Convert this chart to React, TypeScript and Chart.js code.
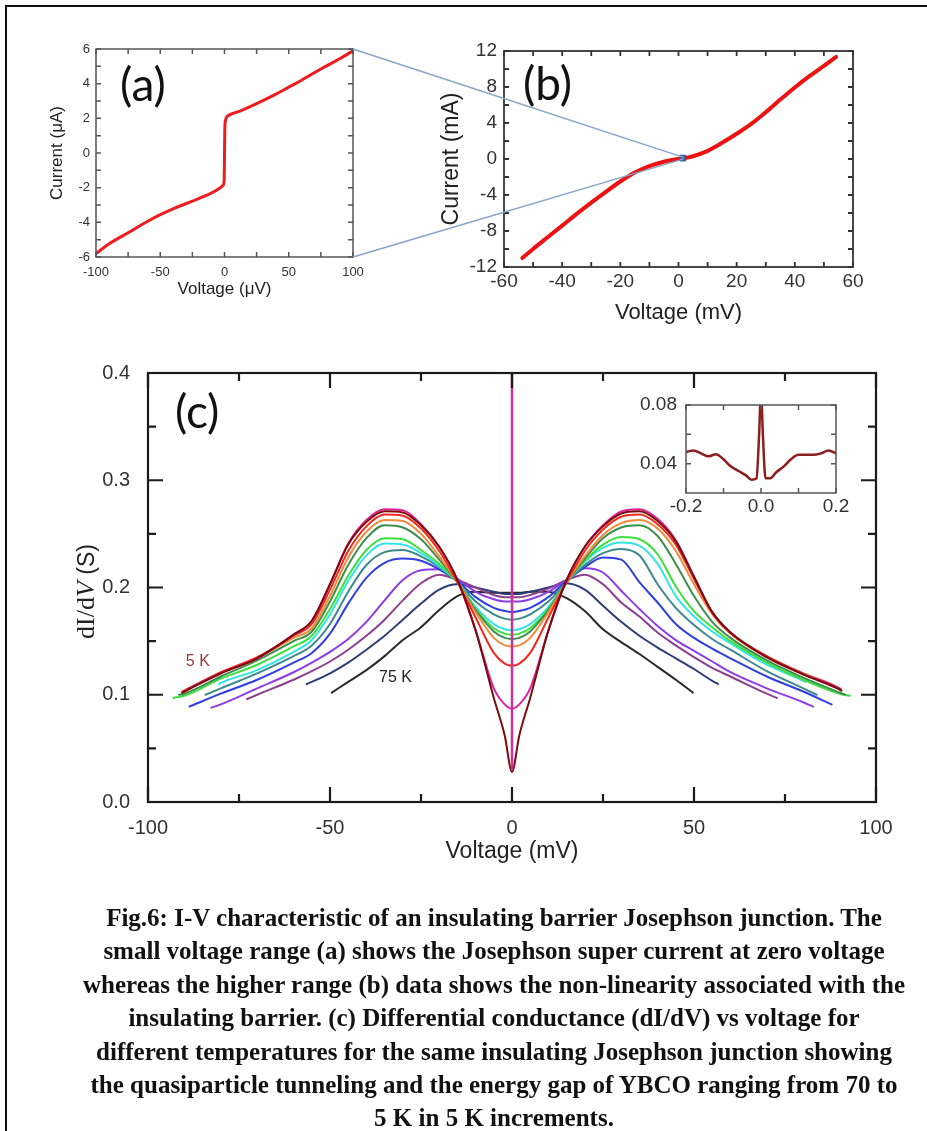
import React, { useEffect, useRef } from "react";
import { Chart, registerables } from "chart.js";

Chart.register(...registerables);

const SANS = '"Liberation Sans", Arial, sans-serif';
const SERIF = '"Liberation Serif", "Times New Roman", serif';
const LETTER = 'Lato, "Open Sans", sans-serif';

// ---------------- Panel (a): small-range I-V ----------------
const aVoltage = [-100, -90, -75, -60, -50, -40, -25, -15, -8, -3.5, -1, -0.3, 0.3, 0.7, 1.5, 4, 12, 25, 40, 50, 60, 75, 90, 100];
const aCurrent = [-5.8, -5.25, -4.6, -3.95, -3.56, -3.22, -2.78, -2.48, -2.22, -2.02, -1.85, -1.6, 1.5, 1.85, 2.05, 2.2, 2.42, 2.85, 3.4, 3.8, 4.2, 4.85, 5.45, 5.9];
const aXTicks = [-100, -50, 0, 50, 100];
const aXMinor = [-75, -25, 25, 75];
const aYTicks = [-6, -4, -2, 0, 2, 4, 6];
const aYMinor = [-5, -3, -1, 1, 3, 5];

// ---------------- Panel (b): wide-range I-V ----------------
const bVoltage = [-53.7, -50, -45, -40, -35, -30, -25, -20, -15, -10, -5, 0, 5, 10, 15, 20, 25, 30, 35, 40, 45, 50, 54.2];
const bCurrent = [-11.0, -10.0, -8.7, -7.4, -6.1, -4.85, -3.65, -2.5, -1.5, -0.8, -0.3, 0, 0.3, 0.9, 1.8, 2.8, 3.9, 5.2, 6.6, 7.95, 9.2, 10.35, 11.35];
const bMarkerV = [1.5];
const bMarkerI = [0.1];
const bXTicks = [-60, -40, -20, 0, 20, 40, 60];
const bXMinor = [-50, -30, -10, 10, 30, 50];
const bYTicks = [-12, -8, -4, 0, 4, 8, 12];
const bYMinor = [-10, -6, -2, 2, 6, 10];

// ---------------- Panel (c): dI/dV vs V ----------------
const cVoltage = [-90, -80, -70, -60, -55, -50, -45, -40, -35, -30, -25, -20, -15, -10, -5, -2, 0, 2, 5, 10, 15, 20, 25, 30, 35, 40, 45, 50, 55, 60, 70, 80, 90];
const curveLabels = ["5 K", "10 K", "15 K", "20 K", "25 K", "30 K", "35 K", "40 K", "45 K", "50 K", "55 K", "65 K", "75 K"];
const curveColors = ["#7a0c0c", "#e0239b", "#f02a1e", "#f5893a", "#3e8e4e", "#3be03b", "#33e3e8", "#3c8a8e", "#2f3fe0", "#8e3be8", "#8e3f8e", "#2e3c78", "#2a2a2a"];
const g5K = [0.103, 0.120, 0.134, 0.156, 0.169, 0.203, 0.240, 0.261, 0.271, 0.270, 0.258, 0.238, 0.207, 0.160, 0.097, 0.062, 0.028, 0.062, 0.097, 0.160, 0.207, 0.238, 0.257, 0.269, 0.271, 0.262, 0.243, 0.210, 0.177, 0.158, 0.135, 0.119, 0.105];
const g10K = [0.103, 0.120, 0.134, 0.156, 0.169, 0.203, 0.241, 0.263, 0.273, 0.272, 0.259, 0.238, 0.207, 0.160, 0.106, 0.091, 0.087, 0.091, 0.106, 0.160, 0.207, 0.238, 0.258, 0.271, 0.273, 0.264, 0.244, 0.210, 0.177, 0.158, 0.135, 0.119, 0.105];
const g15K = [0.104, 0.121, 0.135, 0.155, 0.166, 0.198, 0.234, 0.257, 0.268, 0.267, 0.255, 0.234, 0.205, 0.172, 0.139, 0.129, 0.127, 0.129, 0.139, 0.172, 0.205, 0.234, 0.254, 0.266, 0.268, 0.259, 0.240, 0.208, 0.177, 0.158, 0.136, 0.120, 0.106];
const g20K = [0.103, 0.120, 0.134, 0.153, 0.162, 0.192, 0.228, 0.252, 0.263, 0.262, 0.250, 0.229, 0.205, 0.177, 0.153, 0.146, 0.145, 0.146, 0.153, 0.177, 0.205, 0.229, 0.249, 0.260, 0.263, 0.255, 0.234, 0.203, 0.175, 0.157, 0.135, 0.119, 0.105];
const g25K = [0.101, 0.117, 0.132, 0.150, 0.159, 0.187, 0.221, 0.246, 0.258, 0.256, 0.245, 0.226, 0.205, 0.179, 0.159, 0.153, 0.152, 0.153, 0.159, 0.179, 0.205, 0.227, 0.246, 0.256, 0.258, 0.248, 0.222, 0.192, 0.168, 0.153, 0.132, 0.116, 0.102];
const g30K = [0.099, 0.115, 0.128, 0.145, 0.155, 0.180, 0.211, 0.235, 0.246, 0.245, 0.235, 0.222, 0.205, 0.180, 0.162, 0.157, 0.156, 0.157, 0.162, 0.180, 0.205, 0.225, 0.240, 0.247, 0.245, 0.231, 0.201, 0.178, 0.163, 0.150, 0.130, 0.114, 0.101];
const g35K = [null, 0.111, 0.123, 0.140, 0.151, 0.175, 0.206, 0.230, 0.241, 0.240, 0.232, 0.220, 0.205, 0.182, 0.166, 0.161, 0.160, 0.161, 0.166, 0.182, 0.205, 0.224, 0.237, 0.242, 0.239, 0.222, 0.192, 0.173, 0.159, 0.148, 0.128, 0.113, null];
const g40K = [null, 0.106, 0.120, 0.136, 0.146, 0.166, 0.196, 0.221, 0.233, 0.235, 0.229, 0.219, 0.205, 0.187, 0.175, 0.171, 0.170, 0.171, 0.175, 0.187, 0.205, 0.221, 0.232, 0.236, 0.230, 0.203, 0.181, 0.165, 0.152, 0.142, 0.122, 0.106, null];
const g45K = [null, 0.101, 0.114, 0.130, 0.139, 0.157, 0.185, 0.209, 0.223, 0.227, 0.225, 0.217, 0.206, 0.191, 0.181, 0.178, 0.177, 0.178, 0.181, 0.191, 0.206, 0.219, 0.228, 0.226, 0.205, 0.186, 0.166, 0.153, 0.143, 0.134, 0.117, 0.103, null];
const g50K = [null, 0.091, 0.106, 0.121, 0.130, 0.140, 0.152, 0.168, 0.188, 0.207, 0.216, 0.217, 0.208, 0.196, 0.189, 0.187, 0.187, 0.187, 0.189, 0.196, 0.207, 0.218, 0.214, 0.197, 0.180, 0.164, 0.151, 0.141, 0.131, 0.121, 0.106, 0.093, null];
const g55K = [null, null, 0.100, 0.114, 0.122, 0.131, 0.142, 0.155, 0.170, 0.188, 0.204, 0.212, 0.207, 0.200, 0.193, 0.191, 0.191, 0.191, 0.193, 0.199, 0.207, 0.212, 0.203, 0.186, 0.173, 0.158, 0.146, 0.135, 0.125, 0.117, 0.101, null, null];
const g65K = [null, null, null, null, 0.112, 0.120, 0.130, 0.142, 0.155, 0.170, 0.185, 0.198, 0.203, 0.200, 0.196, 0.194, 0.194, 0.194, 0.196, 0.200, 0.204, 0.198, 0.183, 0.168, 0.155, 0.144, 0.134, 0.124, 0.113, null, null, null, null];
const g75K = [null, null, null, null, null, null, 0.112, 0.123, 0.136, 0.151, 0.163, 0.179, 0.192, 0.196, 0.195, 0.195, 0.195, 0.195, 0.196, 0.196, 0.190, 0.178, 0.161, 0.149, 0.138, 0.126, 0.114, null, null, null, null, null, null];
const curveValues = [g5K, g10K, g15K, g20K, g25K, g30K, g35K, g40K, g45K, g50K, g55K, g65K, g75K];
const curveStartV = [-90.6, -90.4, -90.6, -90.4, -91.5, -93, -80.5, -84.2, -88.6, -82.6, -72.8, -56.4, -49.5];
const curveStartG = [0.102, 0.102, 0.103, 0.102, 0.100, 0.097, 0.110, 0.100, 0.089, 0.088, 0.096, 0.110, 0.102];
const curveEndV = [90.5, 90.3, 90.4, 90.4, 91.5, 92.8, 80.5, 83.7, 87.8, 82.7, 72.8, 56.6, 49.7];
const curveEndG = [0.104, 0.104, 0.105, 0.104, 0.100, 0.099, 0.112, 0.100, 0.091, 0.089, 0.097, 0.110, 0.102];
const spikeV = [0, 0];
const spikeG = [0.03, 0.42];
const cXTicks = [-100, -50, 0, 50, 100];
const cXMinor = [-75, -25, 25, 75];
const cYTicks = [0, 0.1, 0.2, 0.3, 0.4];
const cYMinor = [0.05, 0.15, 0.25, 0.35];
const cNotes = [
  { text: "5 K", v: -86.3, g: 0.131, color: "#9a3a3a" },
  { text: "75 K", v: -32.0, g: 0.116, color: "#222222" },
];

// ---------------- Inset ----------------
const insetV = [-0.2, -0.18, -0.16, -0.14, -0.12, -0.1, -0.08, -0.06, -0.04, -0.025, -0.012, -0.005, 0, 0.005, 0.012, 0.025, 0.04, 0.06, 0.08, 0.1, 0.12, 0.14, 0.16, 0.18, 0.2];
const insetG = [0.048, 0.049, 0.047, 0.045, 0.0465, 0.043, 0.038, 0.035, 0.032, 0.029, 0.030, 0.06, 0.09, 0.06, 0.030, 0.030, 0.034, 0.038, 0.043, 0.046, 0.046, 0.046, 0.047, 0.049, 0.047];
const iXTicks = [-0.2, 0, 0.2];
const iXMinor = [-0.1, 0.1];
const iYTicks = [0.04, 0.08];
const iYMinor = [0.06];

const CAPTION = [
  "Fig.6: I-V characteristic of an insulating barrier Josephson junction. The",
  "small voltage range (a) shows the Josephson super current at zero voltage",
  "whereas the higher range (b) data shows the non-linearity associated with the",
  "insulating barrier. (c) Differential conductance (dI/dV) vs voltage for",
  "different temperatures for the same insulating Josephson junction showing",
  "the quasiparticle tunneling and the energy gap of YBCO ranging from 70 to",
  "5 K in 5 K increments.",
];

type Spec = {
  padding: { left: number; top: number; right: number; bottom: number };
  yWidth: number;
  xHeight: number;
  xMin: number; xMax: number; yMin: number; yMax: number;
  xTicks: number[]; yTicks: number[];
  xFmt: (v: number) => string; yFmt: (v: number) => string;
  tickSize: number; tickColor: string; xPad: number; yPad: number;
  xTitle?: { text: string; size: number };
  yTitle?: { text: string; size: number };
};

function buildOptions(p: Spec): any {
  return {
    animation: false,
    responsive: false,
    maintainAspectRatio: false,
    events: [],
    layout: { padding: p.padding },
    plugins: { legend: { display: false }, tooltip: { enabled: false }, title: { display: false } },
    scales: {
      x: {
        type: "linear",
        min: p.xMin,
        max: p.xMax,
        afterBuildTicks: (s: any) => { s.ticks = p.xTicks.map((v) => ({ value: v })); },
        afterFit: (s: any) => { s.height = p.xHeight; },
        grid: { display: false, drawTicks: false },
        border: { display: false },
        ticks: {
          autoSkip: false, maxRotation: 0, padding: p.xPad, color: p.tickColor,
          font: { family: SANS, size: p.tickSize },
          callback: (v: any) => p.xFmt(Number(v)),
        },
        title: p.xTitle
          ? { display: true, text: p.xTitle.text, color: "#222", font: { family: SANS, size: p.xTitle.size }, padding: 0 }
          : { display: false },
      },
      y: {
        type: "linear",
        min: p.yMin,
        max: p.yMax,
        afterBuildTicks: (s: any) => { s.ticks = p.yTicks.map((v) => ({ value: v })); },
        afterFit: (s: any) => { s.width = p.yWidth; },
        grid: { display: false, drawTicks: false },
        border: { display: false },
        ticks: {
          autoSkip: false, padding: p.yPad, color: p.tickColor,
          font: { family: SANS, size: p.tickSize },
          callback: (v: any) => p.yFmt(Number(v)),
        },
        title: p.yTitle
          ? { display: true, text: p.yTitle.text, color: "#222", font: { family: SANS, size: p.yTitle.size }, padding: 0 }
          : { display: false },
      },
    },
  };
}

function frameTicks(id: string, s: {
  xMajor: number[]; xMinor: number[]; yMajor: number[]; yMinor: number[];
  major: number; minor: number; color: string; width: number;
}): any {
  return {
    id,
    afterDatasetsDraw(chart: any) {
      const { ctx, chartArea } = chart;
      const { left, right, top, bottom } = chartArea;
      const xs = chart.scales.x;
      const ys = chart.scales.y;
      ctx.save();
      ctx.strokeStyle = s.color;
      ctx.lineWidth = s.width;
      ctx.beginPath();
      const tx = (v: number, len: number) => {
        const p = xs.getPixelForValue(v);
        ctx.moveTo(p, bottom); ctx.lineTo(p, bottom - len);
        ctx.moveTo(p, top); ctx.lineTo(p, top + len);
      };
      const ty = (v: number, len: number) => {
        const p = ys.getPixelForValue(v);
        ctx.moveTo(left, p); ctx.lineTo(left + len, p);
        ctx.moveTo(right, p); ctx.lineTo(right - len, p);
      };
      s.xMajor.forEach((v) => tx(v, s.major));
      s.xMinor.forEach((v) => tx(v, s.minor));
      s.yMajor.forEach((v) => ty(v, s.major));
      s.yMinor.forEach((v) => ty(v, s.minor));
      ctx.stroke();
      ctx.strokeRect(left, top, right - left, bottom - top);
      ctx.restore();
    },
  };
}

function letterPlugin(id: string, text: string, dx: number, baseDy: number, size: number): any {
  return {
    id,
    afterDraw(chart: any) {
      const { ctx, chartArea } = chart;
      ctx.save();
      ctx.fillStyle = "#111";
      ctx.font = `${size}px ${LETTER}`;
      ctx.textBaseline = "alphabetic";
      ctx.textAlign = "left";
      ctx.fillText(text, chartArea.left + dx, chartArea.top + baseDy);
      ctx.restore();
    },
  };
}

const fmtInt = (v: number) => String(Math.round(v));
const fmt1 = (v: number) => v.toFixed(1);
const fmt2 = (v: number) => v.toFixed(2);

export default function App() {
  const refA = useRef<HTMLCanvasElement>(null);
  const refB = useRef<HTMLCanvasElement>(null);
  const refC = useRef<HTMLCanvasElement>(null);
  const refI = useRef<HTMLCanvasElement>(null);

  useEffect(() => {
    const charts: Chart[] = [];

    // (c) main
    const cDatasets: any[] = [];
    cDatasets.push({
      label: "supercurrent",
      data: spikeV.map((v, i) => ({ x: v, y: spikeG[i] })),
      borderColor: "#d0309a",
      borderWidth: 2.5,
      pointRadius: 0,
    });
    curveValues.forEach((vals, i) => {
      const pts: { x: number; y: number }[] = [{ x: curveStartV[i], y: curveStartG[i] }];
      cVoltage.forEach((v, j) => {
        const g = vals[j];
        if (g !== null && v > curveStartV[i] && v < curveEndV[i]) pts.push({ x: v, y: g as number });
      });
      pts.push({ x: curveEndV[i], y: curveEndG[i] });
      cDatasets.push({
        label: curveLabels[i],
        data: pts,
        borderColor: curveColors[i],
        borderWidth: 2,
        pointRadius: 0,
        cubicInterpolationMode: "monotone",
        borderJoinStyle: "round",
        borderCapStyle: "round",
      });
    });

    const cOptions = buildOptions({
      padding: { left: 0, top: 373, right: 51, bottom: 266 },
      yWidth: 148, xHeight: 63,
      xMin: -100, xMax: 100, yMin: 0, yMax: 0.4,
      xTicks: cXTicks, yTicks: cYTicks, xFmt: fmtInt, yFmt: fmt1,
      tickSize: 20, tickColor: "#333", xPad: 14, yPad: 18,
      xTitle: { text: "Voltage (mV)", size: 23 },
    });
    const cText = {
      id: "cText",
      afterDraw(chart: any) {
        const { ctx, scales } = chart;
        ctx.save();
        ctx.textBaseline = "middle";
        ctx.textAlign = "center";
        ctx.font = `16px ${SANS}`;
        cNotes.forEach((n) => {
          ctx.fillStyle = n.color;
          ctx.fillText(n.text, scales.x.getPixelForValue(n.v), scales.y.getPixelForValue(n.g));
        });
        // y-axis title: dI/dV (S)
        const parts = [
          { t: "dI/d", f: `26px ${SERIF}` },
          { t: "V", f: `italic 26px ${SERIF}` },
          { t: " (S)", f: `23px ${SANS}` },
        ];
        let total = 0;
        parts.forEach((p) => { ctx.font = p.f; total += ctx.measureText(p.t).width; });
        ctx.translate(85, (chart.chartArea.top + chart.chartArea.bottom) / 2 + 4);
        ctx.rotate(-Math.PI / 2);
        ctx.textAlign = "left";
        ctx.textBaseline = "alphabetic";
        ctx.fillStyle = "#222";
        let x = -total / 2;
        parts.forEach((p) => {
          ctx.font = p.f;
          ctx.fillText(p.t, x, 9);
          x += ctx.measureText(p.t).width;
        });
        ctx.restore();
      },
    };
    charts.push(new Chart(refC.current!, {
      type: "line",
      data: { datasets: cDatasets },
      options: cOptions,
      plugins: [
        frameTicks("cFrame", { xMajor: cXTicks, xMinor: cXMinor, yMajor: cYTicks, yMinor: cYMinor, major: 15, minor: 8, color: "#1a1a1a", width: 2.2 }),
        letterPlugin("cLetter", "(c)", 27, 55, 46),
        cText,
      ],
    } as any));

    // inset
    const iOptions = buildOptions({
      padding: { left: 600, top: 405, right: 91, bottom: 608 },
      yWidth: 86, xHeight: 30,
      xMin: -0.2, xMax: 0.2, yMin: 0.02, yMax: 0.08,
      xTicks: iXTicks, yTicks: iYTicks, xFmt: fmt1, yFmt: fmt2,
      tickSize: 19, tickColor: "#333", xPad: 2, yPad: 9,
    });
    charts.push(new Chart(refI.current!, {
      type: "line",
      data: {
        datasets: [{
          data: insetV.map((v, i) => ({ x: v, y: insetG[i] })),
          borderColor: "#8b1e1e",
          borderWidth: 2.5,
          pointRadius: 0,
          cubicInterpolationMode: "monotone",
        }],
      },
      options: iOptions,
      plugins: [
        frameTicks("iFrame", { xMajor: iXTicks, xMinor: iXMinor, yMajor: iYTicks, yMinor: iYMinor, major: 5, minor: 5, color: "#555", width: 1.5 }),
      ],
    } as any));

    // (a)
    const aOptions = buildOptions({
      padding: { left: 47, top: 49, right: 574, bottom: 831 },
      yWidth: 49, xHeight: 43,
      xMin: -100, xMax: 100, yMin: -6, yMax: 6,
      xTicks: aXTicks, yTicks: aYTicks, xFmt: fmtInt, yFmt: fmtInt,
      tickSize: 13, tickColor: "#333", xPad: 8, yPad: 6,
      xTitle: { text: "Voltage (\u03bcV)", size: 17 },
      yTitle: { text: "Current (\u03bcA)", size: 17 },
    });
    const chartA = new Chart(refA.current!, {
      type: "line",
      data: {
        datasets: [{
          data: aVoltage.map((v, i) => ({ x: v, y: aCurrent[i] })),
          borderColor: "#ee1c1c",
          borderWidth: 3,
          pointRadius: 0,
          cubicInterpolationMode: "monotone",
        }],
      },
      options: aOptions,
      plugins: [
        frameTicks("aFrame", { xMajor: aXTicks, xMinor: aXMinor, yMajor: aYTicks, yMinor: aYMinor, major: 5, minor: 5, color: "#555", width: 1.5 }),
        letterPlugin("aLetter", "(a)", 24, 52, 46),
      ],
    } as any);
    charts.push(chartA);

    // (b)
    const bOptions = buildOptions({
      padding: { left: 438, top: 51, right: 74, bottom: 805 },
      yWidth: 66, xHeight: 59,
      xMin: -60, xMax: 60, yMin: -12, yMax: 12,
      xTicks: bXTicks, yTicks: bYTicks, xFmt: fmtInt, yFmt: fmtInt,
      tickSize: 19, tickColor: "#333", xPad: 3, yPad: 7,
      xTitle: { text: "Voltage (mV)", size: 22 },
      yTitle: { text: "Current (mA)", size: 23 },
    });
    const zoomLines = {
      id: "zoomLines",
      afterDraw(chart: any) {
        const { ctx, scales } = chart;
        const ca = chartA.chartArea;
        const px = scales.x.getPixelForValue(bMarkerV[0]);
        const py = scales.y.getPixelForValue(bMarkerI[0]);
        ctx.save();
        ctx.strokeStyle = "#86a3cc";
        ctx.lineWidth = 1.5;
        ctx.beginPath();
        ctx.moveTo(ca.right, ca.top); ctx.lineTo(px, py - 1);
        ctx.moveTo(ca.right, ca.bottom); ctx.lineTo(px, py + 1);
        ctx.stroke();
        ctx.restore();
      },
    };
    charts.push(new Chart(refB.current!, {
      type: "line",
      data: {
        datasets: [
          {
            data: bMarkerV.map((v, i) => ({ x: v, y: bMarkerI[i] })),
            showLine: false,
            pointStyle: "rect",
            pointRadius: 4,
            backgroundColor: "#4a6fb0",
            borderColor: "#2f4f8f",
            borderWidth: 1,
          },
          {
            data: bVoltage.map((v, i) => ({ x: v, y: bCurrent[i] })),
            borderColor: "#ee1111",
            borderWidth: 4,
            pointRadius: 0,
            cubicInterpolationMode: "monotone",
            borderCapStyle: "round",
          },
        ],
      },
      options: bOptions,
      plugins: [
        frameTicks("bFrame", { xMajor: bXTicks, xMinor: bXMinor, yMajor: bYTicks, yMinor: bYMinor, major: 5, minor: 5, color: "#333", width: 1.8 }),
        letterPlugin("bLetter", "(b)", 19, 49, 46),
        zoomLines,
      ],
    } as any));

    return () => charts.forEach((c) => c.destroy());
  }, []);

  const canvasStyle: React.CSSProperties = { position: "absolute", left: 0, top: 0, width: 927, height: 1131 };

  return (
    <div style={{ position: "absolute", left: 0, top: 0, width: 927, height: 1131, overflow: "hidden", background: "#fff" }}>
      <div style={{ position: "absolute", left: 5, top: 5, width: 940, height: 1140, borderLeft: "2px solid #111", borderTop: "2px solid #111" }} />
      <canvas ref={refC} width={927} height={1131} style={canvasStyle} />
      <canvas ref={refI} width={927} height={1131} style={canvasStyle} />
      <canvas ref={refA} width={927} height={1131} style={canvasStyle} />
      <canvas ref={refB} width={927} height={1131} style={canvasStyle} />
      <div
        style={{
          position: "absolute", left: 60, top: 901, width: 868, textAlign: "center",
          fontFamily: SERIF, fontWeight: "bold", fontSize: 25, lineHeight: "33.4px", color: "#111",
        }}
      >
        {CAPTION.map((line, i) => (
          <div key={i} style={{ whiteSpace: "nowrap" }}>{line}</div>
        ))}
      </div>
    </div>
  );
}
